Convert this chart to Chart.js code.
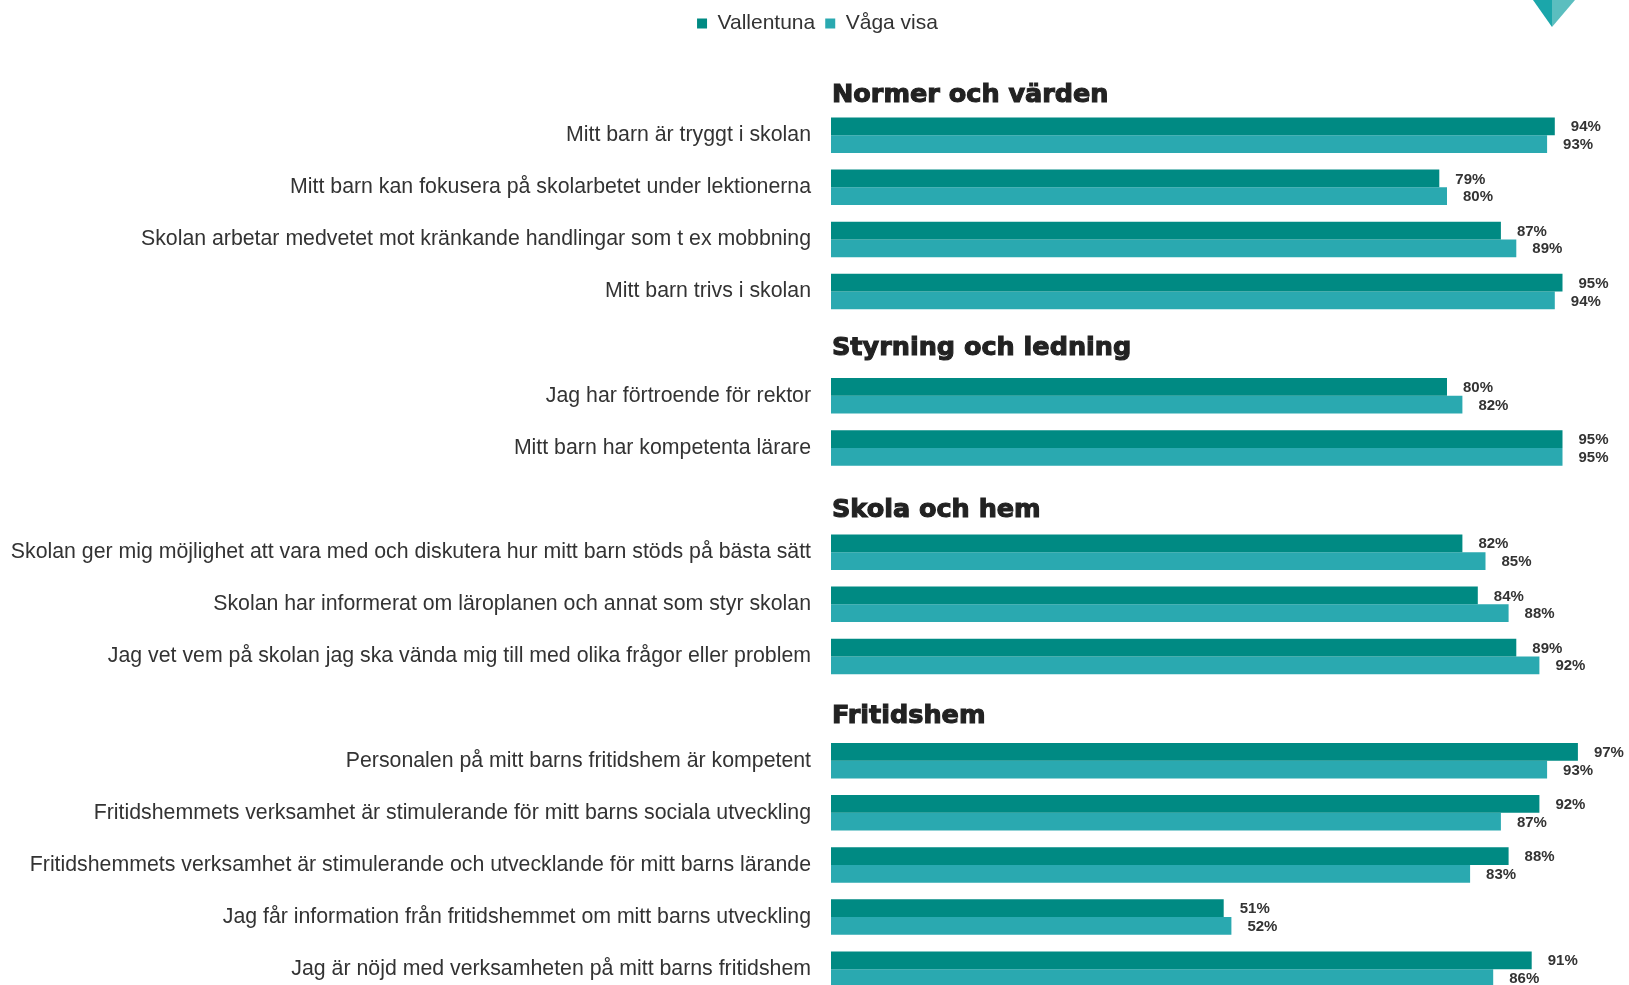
<!DOCTYPE html>
<html lang="sv">
<head>
<meta charset="utf-8">
<script src="https://cdn.jsdelivr.net/npm/chart.js@4/dist/chart.umd.min.js"></script>
<style>
  html, body { margin: 0; padding: 0; background: #fff; overflow: hidden; }
  #wrap { position: relative; width: 1629px; height: 1028px; }
  #survey-chart { display: block; }
  #logo { position: absolute; left: 1530px; top: 0; }
</style>
</head>
<body>
<div id="wrap">
  <canvas id="survey-chart" width="1629" height="1028"></canvas>
  <svg id="logo" width="50" height="30">
    <polygon points="3,0 22,0 22,27" fill="#1ba6aa" />
    <polygon points="22,0 45,0 22,27" fill="#5bbebf" />
  </svg>
</div>
<script>
const DARK_TEAL = '#008a83';
const LIGHT_TEAL = '#2aa9b0';
const TEXT_COLOR = '#333333';
const LABEL_FONT = '"Liberation Sans", Arial, sans-serif';

const sections = ['Normer och värden', 'Styrning och ledning', 'Skola och hem', 'Fritidshem'];

const questions = [
  ['Mitt barn är tryggt i skolan',
   'Mitt barn kan fokusera på skolarbetet under lektionerna',
   'Skolan arbetar medvetet mot kränkande handlingar som t ex mobbning',
   'Mitt barn trivs i skolan'],
  ['Jag har förtroende för rektor',
   'Mitt barn har kompetenta lärare'],
  ['Skolan ger mig möjlighet att vara med och diskutera hur mitt barn stöds på bästa sätt',
   'Skolan har informerat om läroplanen och annat som styr skolan',
   'Jag vet vem på skolan jag ska vända mig till med olika frågor eller problem'],
  ['Personalen på mitt barns fritidshem är kompetent',
   'Fritidshemmets verksamhet är stimulerande för mitt barns sociala utveckling',
   'Fritidshemmets verksamhet är stimulerande och utvecklande för mitt barns lärande',
   'Jag får information från fritidshemmet om mitt barns utveckling',
   'Jag är nöjd med verksamheten på mitt barns fritidshem'],
];

const vallentuna = [
  [94, 79, 87, 95],
  [80, 95],
  [82, 84, 89],
  [97, 92, 88, 51, 91],
];

const vagaVisa = [
  [93, 80, 89, 94],
  [82, 95],
  [85, 88, 92],
  [93, 87, 83, 52, 86],
];

const seriesNames = ['Vallentuna', 'Våga visa'];

// each section gets an empty row for its heading
function buildRows() {
  const labels = [];
  const first = [];
  const second = [];
  const headings = [];

  sections.forEach((section, s) => {
    headings.push({ index: labels.length, text: section });
    labels.push('');
    first.push(null);
    second.push(null);

    questions[s].forEach((question, q) => {
      labels.push(question);
      first.push(vallentuna[s][q]);
      second.push(vagaVisa[s][q]);
    });
  });

  return { labels, first, second, headings };
}

// legend sits a bit right of the canvas centre in the original
const legendShiftPlugin = {
  id: 'legendShift',
  afterLayout(chart) {
    chart.legend.left += 34;
  },
};

const headingPlugin = {
  id: 'headings',
  afterDatasetsDraw(chart, args, opts) {
    const { ctx, chartArea } = chart;
    const yScale = chart.scales.y;

    ctx.save();
    ctx.font = 'bold 25.5px "DejaVu Sans", sans-serif';
    ctx.fillStyle = '#222222';
    ctx.strokeStyle = '#222222';
    ctx.lineWidth = 1.1;
    ctx.textAlign = 'left';
    ctx.textBaseline = 'middle';
    opts.items.forEach((heading, i) => {
      const y = yScale.getPixelForValue(heading.index) + opts.nudge[i];
      ctx.fillText(heading.text, chartArea.left + 1, y);
      ctx.strokeText(heading.text, chartArea.left + 1, y);
    });
    ctx.restore();
  },
};

const valueLabelPlugin = {
  id: 'valueLabels',
  afterDatasetsDraw(chart) {
    const { ctx } = chart;

    ctx.save();
    ctx.font = `bold 15px ${LABEL_FONT}`;
    ctx.fillStyle = TEXT_COLOR;
    ctx.textAlign = 'left';
    ctx.textBaseline = 'middle';
    chart.data.datasets.forEach((dataset, d) => {
      chart.getDatasetMeta(d).data.forEach((bar, i) => {
        const value = dataset.data[i];
        if (value === null) return;
        ctx.fillText(`${value}%`, bar.x + 16, bar.y + 1);
      });
    });
    ctx.restore();
  },
};

function createSurveyChart() {
  const rows = buildRows();

  const ctx = document.getElementById('survey-chart').getContext('2d');

  return new Chart(ctx, {
    type: 'bar',
    data: {
      labels: rows.labels,
      datasets: [
        {
          label: seriesNames[0],
          data: rows.first,
          backgroundColor: DARK_TEAL,
          categoryPercentage: 0.68,
          barPercentage: 1,
        },
        {
          label: seriesNames[1],
          data: rows.second,
          backgroundColor: LIGHT_TEAL,
          categoryPercentage: 0.68,
          barPercentage: 1,
        },
      ],
    },
    options: {
      responsive: false,
      indexAxis: 'y',
      animation: false,
      layout: {
        padding: { top: 3, right: 28, bottom: 5, left: 0 },
      },
      scales: {
        x: {
          display: false,
          min: 0,
          max: 100,
        },
        y: {
          afterFit(scale) {
            scale.width = 831;
          },
          grid: { display: false, drawTicks: false },
          border: { display: false },
          ticks: {
            padding: 20,
            color: TEXT_COLOR,
            font: { family: LABEL_FONT, size: 21.3 },
          },
        },
      },
      plugins: {
        legend: {
          position: 'top',
          labels: {
            boxWidth: 10,
            boxHeight: 10,
            padding: 10,
            color: TEXT_COLOR,
            font: { family: LABEL_FONT, size: 21 },
          },
        },
        // empty title used as a spacer between legend and bars
        title: {
          display: true,
          text: '',
          weight: 500,
          font: { size: 13, lineHeight: 1 },
          padding: 0,
        },
        tooltip: { enabled: false },
        headings: {
          items: rows.headings,
          nudge: [12, 5, 10, 8],
        },
      },
    },
    plugins: [legendShiftPlugin, headingPlugin, valueLabelPlugin],
  });
}

createSurveyChart();
</script>
</body>
</html>
